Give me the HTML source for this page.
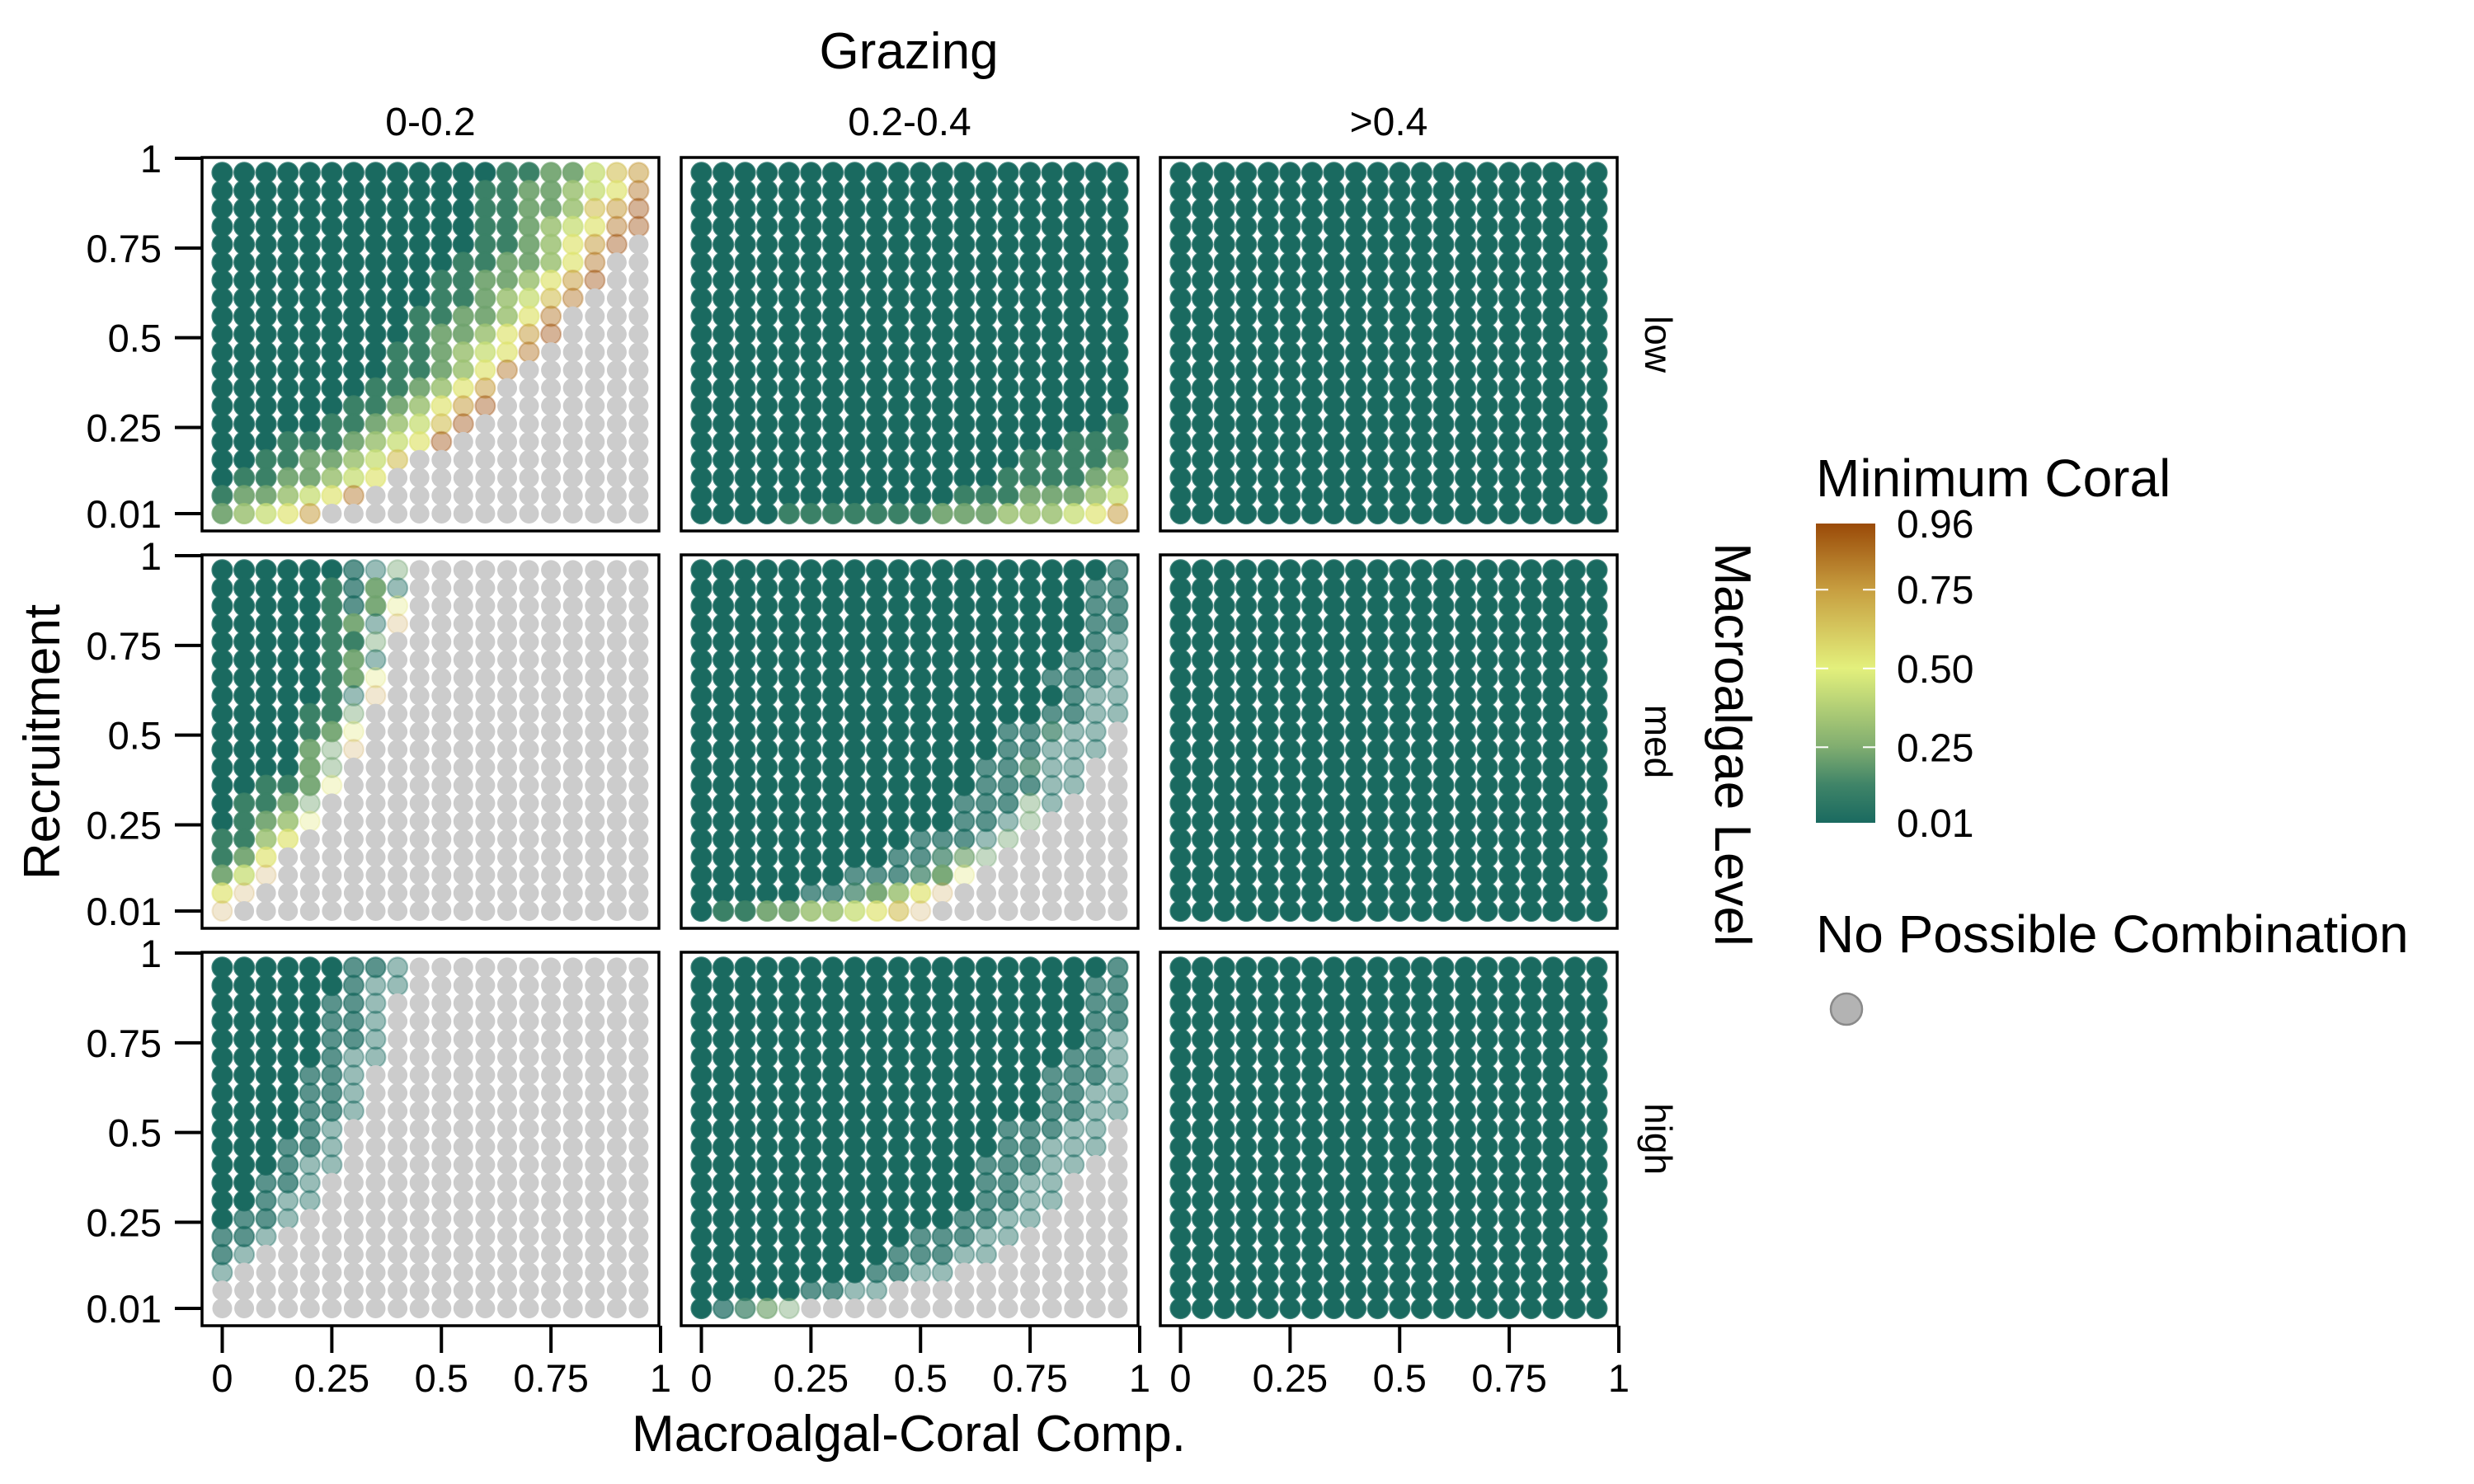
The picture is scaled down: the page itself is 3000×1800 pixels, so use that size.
<!DOCTYPE html>
<html><head><meta charset="utf-8"><style>
html,body{margin:0;padding:0;background:#fff;}
svg{display:block;font-family:"Liberation Sans",Arial,sans-serif;}
</style></head><body>
<svg id="chart" xmlns="http://www.w3.org/2000/svg" width="3000" height="1800" viewBox="0 0 3000 1800">
<rect width="3000" height="1800" fill="#fff"/>
<text x="1102" y="83" font-size="62" text-anchor="middle">Grazing</text>
<text x="1102" y="1760" font-size="62" text-anchor="middle">Macroalgal-Coral Comp.</text>
<text transform="translate(72,900) rotate(-90)" font-size="62" text-anchor="middle">Recruitment</text>
<text transform="translate(2080,903) rotate(90)" font-size="62" text-anchor="middle">Macroalgae Level</text>
<g id="panels"></g>
<g id="legend">
<defs><linearGradient id="cbar" x1="0" y1="1" x2="0" y2="0">
<stop offset="0" stop-color="#1a6a60"/><stop offset="0.126" stop-color="#3f8468"/><stop offset="0.253" stop-color="#80ad70"/><stop offset="0.516" stop-color="#e3f07c"/><stop offset="0.779" stop-color="#c79e40"/><stop offset="1" stop-color="#9a4a08"/>
</linearGradient></defs>
<text x="2202" y="602" font-size="64">Minimum Coral</text>
<rect x="2202" y="635" width="72" height="363" fill="url(#cbar)"/>
<g id="cbticks"></g>
<text x="2202" y="1155" font-size="64">No Possible Combination</text>
<circle cx="2239" cy="1224" r="19" fill="#b3b3b3" stroke="#8a8a8a" stroke-width="2.5"/>
</g>
</svg>
<script>
const xVals = [0,0.05,0.1,0.15,0.2,0.25,0.3,0.35,0.4,0.45,0.5,0.55,0.6,0.65,0.7,0.75,0.8,0.85,0.9,0.95];
const yVals = [0.96,0.91,0.86,0.81,0.76,0.71,0.66,0.61,0.56,0.51,0.46,0.41,0.36,0.31,0.26,0.21,0.16,0.11,0.06,0.01];
const grazingLabels = ["0-0.2","0.2-0.4",">0.4"];
const macroLabels = ["low","med","high"];
const xTicks = [0,0.25,0.5,0.75,1];
const xTickLabels = ["0","0.25","0.5","0.75","1"];
const yTicks = [1,0.75,0.5,0.25,0.01];
const yTickLabels = ["1","0.75","0.5","0.25","0.01"];
const cbTicks = [0.96,0.75,0.5,0.25,0.01];
const cbTickLabels = ["0.96","0.75","0.50","0.25","0.01"];
// cell codes: digit = value level (0..9), 'a'-'j' = level with medium transparency, 'A'-'J' = level faded, '.' = no possible combination
const panelLowG1 = [
"00000000000001122467","00000000000011223458","00000000000011223679","00000000000011234589",
"0000000000001123579.","000000000001122358..","000000000011223579..","00000000001123468...",
"0000000001122358....","0000000001223579....","000000001123458.....","00000000112358......",
"0000000112357.......","0000001123579.......","000001123469........","00011123459.........",
"001122346...........","01122345............","1223458.............","23457..............."];
const panelLowG2 = [
"00000000000000000000","00000000000000000000","00000000000000000000","00000000000000000000",
"00000000000000000000","00000000000000000000","00000000000000000000","00000000000000000000",
"00000000000000000000","00000000000000000000","00000000000000000000","00000000000000000000",
"00000000000000000000","00000000000000000000","00000000000000000001","00000000000000000111",
"00000000000000011112","00000000000000111123","00000000000011122234","00001111111222333457"];
const panelLowG3 = Array(20).fill("00000000000000000000");
const panelMedG1 = [
"000000aAC...........","000001a2A...........","000001a2F...........","0000012AH...........",
"0000011C............","0000012A............","0000012F............","000001AH............",
"000011C.............","000012F.............","00002CH.............","00002C..............",
"00112F..............","0112C...............","0123F...............","1135................",
"125.................","24H.................","5H..................","H..................."];
const panelMedG2 = [
"0000000000000000000a","000000000000000000aa","000000000000000000aa","000000000000000000aa",
"000000000000000000aA","00000000000000000aaA","0000000000000000aaaA","00000000000000000aAA",
"0000000000000000aaAA","00000000000000aabAA.","00000000000000aaAAA.","0000000000000aabAA..",
"0000000000000aaaAA..","000000000000aaaCA...","000000000000aaAC....","0000000000aaaAC.....",
"000000000aabcC......","0000000aaab2F.......","00000aab235H........","0112233456H........."];
const panelMedG3 = Array(20).fill("00000000000000000000");
const panelHighG1 = [
"000000aaA...........","000000aAA...........","00000aaA............","00000aaA............",
"00000aaA............","00000aAA............","0000aaA.............","0000aaA.............",
"0000aaA.............","0000aA..............","000aaA..............","000aAA..............",
"00aaA...............","00aAA...............","0aaA................","aaA.................",
"aA..................","A...................","....................","...................."];
const panelHighG2 = [
"0000000000000000000a","000000000000000000aa","000000000000000000aa","000000000000000000aa",
"000000000000000000aA","00000000000000000aaA","0000000000000000aaaA","0000000000000000aaAA",
"0000000000000000aaAA","00000000000000aaaAA.","00000000000000aaAAA.","0000000000000aaaAA..",
"0000000000000aaAA...","0000000000000aaAA...","000000000000aaAA....","0000000000aaaAA.....",
"000000000aaaAA......","00000000aaAA........","00000aaAA...........","0abcC..............."];
const panelHighG3 = Array(20).fill("00000000000000000000");
const panelData = [[panelLowG1,panelLowG2,panelLowG3],[panelMedG1,panelMedG2,panelMedG3],[panelHighG1,panelHighG2,panelHighG3]];

const NS="http://www.w3.org/2000/svg";
const colLefts=[245,826,1407], rowTops=[191,673,1155], PW=554, PH=453;
function xScale(c,v){return colLefts[c]+24.5+v*531.5;}
function yScale(r,v){return rowTops[r]+432-(v-0.01)*431/0.99;}
const stops=[[0.01,[26,106,96]],[0.13,[63,132,104]],[0.25,[128,173,112]],[0.5,[227,240,124]],[0.75,[199,158,64]],[0.96,[154,74,8]]];
function colorOf(v){
  for(let i=0;i<stops.length-1;i++){
    if(v<=stops[i+1][0]){const t=(v-stops[i][0])/(stops[i+1][0]-stops[i][0]);
      const a=stops[i][1],b=stops[i+1][1];
      return "rgb("+a.map((x,k)=>Math.round(x+(b[k]-x)*t)).join(",")+")";}
  }
  return "rgb(154,74,8)";
}
function mk(tag,attrs,parent){const e=document.createElementNS(NS,tag);for(const k in attrs)e.setAttribute(k,attrs[k]);parent.appendChild(e);return e;}
const G=document.getElementById("panels");
for(let r=0;r<3;r++){
  for(let c=0;c<3;c++){
    const g=mk("g",{},G);
    
    
    const rows=panelData[r][c];
    for(let i=0;i<yVals.length;i++){
      const s=rows[i];
      for(let j=0;j<xVals.length;j++){
        const ch=s[j]||"0";
        const cx=xScale(c,xVals[j]), cy=yScale(r,yVals[i]);
        let fill,alpha;
        if(ch==="."){fill="#cccccc";alpha=1;}
        else{
          let lvl,extra=1;
          if(ch>="0"&&ch<="9"){lvl=+ch;}
          else if(ch>="a"&&ch<="j"){lvl=ch.charCodeAt(0)-97;extra=0.72;}
          else{lvl=ch.charCodeAt(0)-65;extra=0.45;}
          const v=0.01+lvl*0.95/9;
          fill=colorOf(v);
          alpha=(1-0.58*Math.min(1,Math.max(0,(v-0.12)/0.8)))*extra;
        }
        const d=mk("circle",{cx:cx.toFixed(1),cy:cy.toFixed(1),r:12,fill:fill,"fill-opacity":alpha,stroke:fill,"stroke-opacity":ch==="."?0:alpha*0.8,"stroke-width":2.2},g);
        
        
      }
    }
    const b=mk("rect",{x:colLefts[c],y:rowTops[r],width:PW,height:PH,fill:"none",stroke:"#000","stroke-width":3.5},g);
    
    
  }
  for(let k=0;k<yTicks.length;k++){
    const y=yScale(r,yTicks[k]);
    const t=mk("line",{x1:212,x2:245,y1:y,y2:y,stroke:"#000","stroke-width":4},G);
    
    
    const l=mk("text",{x:196,y:y+17,"font-size":47,"text-anchor":"end"},G);
    l.textContent=yTickLabels[k];
    
    
  }
  const sl=mk("text",{transform:"translate(1995,"+(rowTops[r]+PH/2)+") rotate(90)","font-size":46,"text-anchor":"middle"},G);
  sl.textContent=macroLabels[r];
  
  
}
for(let c=0;c<3;c++){
  const st=mk("text",{x:colLefts[c]+PW/2,y:164,"font-size":48,"text-anchor":"middle"},G);
  st.textContent=grazingLabels[c];
  
  
  for(let k=0;k<xTicks.length;k++){
    const x=xScale(c,xTicks[k]);
    const t=mk("line",{x1:x,x2:x,y1:1608,y2:1641,stroke:"#000","stroke-width":4},G);
    
    
    const l=mk("text",{x:x,y:1688,"font-size":47,"text-anchor":"middle"},G);
    l.textContent=xTickLabels[k];
    
    
  }
}
const CB=document.getElementById("cbticks");
for(let k=0;k<cbTicks.length;k++){
  const y=998-(cbTicks[k]-0.01)/0.95*363;
  if(k>0&&k<cbTicks.length-1){
    mk("line",{x1:2202,x2:2217,y1:y,y2:y,stroke:"#fff","stroke-width":2},CB);
    mk("line",{x1:2259,x2:2274,y1:y,y2:y,stroke:"#fff","stroke-width":2},CB);
  }
  const l=mk("text",{x:2300,y:y+17,"font-size":48},CB);
  l.textContent=cbTickLabels[k];
  
  
}
</script>
</body></html>
